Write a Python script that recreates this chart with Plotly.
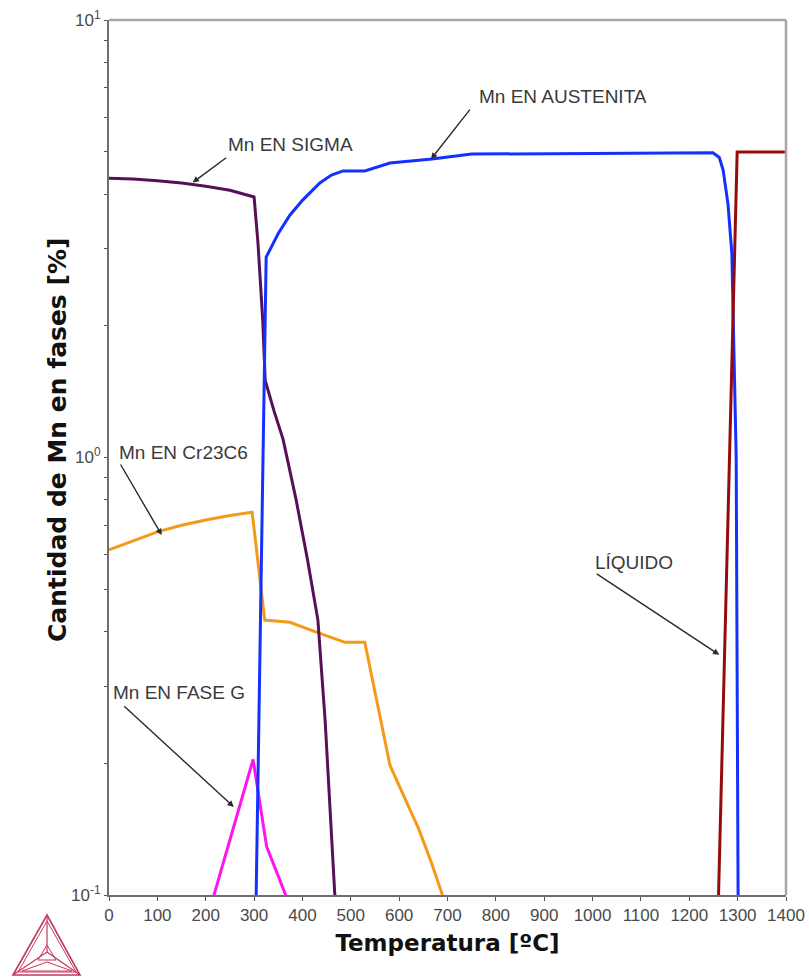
import math
import plotly.graph_objects as go

# Mn content in each phase vs temperature
T_sigma = [0, 50, 100, 150, 200, 250, 300, 308, 318, 323, 342, 360, 387, 411, 432, 440, 447, 467, 470]
mn_sigma = [4.35, 4.33, 4.29, 4.24, 4.17, 4.08, 3.94, 3.1, 2.05, 1.5, 1.27, 1.1, 0.8, 0.58, 0.425, 0.32, 0.25, 0.1, 0.093]

T_aus = [304, 325, 350, 374, 400, 436, 460, 484, 529, 581, 668, 750, 1000, 1249, 1262, 1270, 1280, 1288, 1297, 1301]
mn_aus = [0.095, 2.87, 3.25, 3.58, 3.87, 4.24, 4.42, 4.52, 4.52, 4.71, 4.81, 4.94, 4.95, 4.97, 4.85, 4.54, 3.8, 2.93, 1.0, 0.095]

T_cr = [0, 50, 100, 150, 200, 250, 296, 322, 374, 426, 488, 529, 581, 610, 640, 665, 690, 695]
mn_cr = [0.615, 0.645, 0.676, 0.70, 0.72, 0.737, 0.75, 0.425, 0.42, 0.40, 0.378, 0.378, 0.198, 0.168, 0.142, 0.12, 0.1, 0.096]

T_g = [216, 298, 326, 370]
mn_g = [0.099, 0.204, 0.129, 0.097]

T_liq = [1260, 1299, 1400]
mn_liq = [0.095, 4.99, 4.99]

x_ticks = list(range(0, 1401, 100))
y_major = [0.1, 1, 10]
y_major_text = ["10<sup>-1</sup>", "10<sup>0</sup>", "10<sup>1</sup>"]

series = [
    (T_cr, mn_cr, "#f39a1b"),
    (T_g, mn_g, "#ff14f0"),
    (T_sigma, mn_sigma, "#561058"),
    (T_aus, mn_aus, "#1430ff"),
    (T_liq, mn_liq, "#950a0a"),
]

fig = go.Figure()
for tx, vy, col in series:
    fig.add_trace(go.Scatter(x=tx, y=vy, mode="lines",
                             line=dict(color=col, width=3),
                             showlegend=False, hoverinfo="skip"))

# minor log ticks (2..9 in each decade)
y_minor = [m * 10 ** d for d in (-1, 0) for m in range(2, 10)]
tickvals = sorted(y_major + y_minor)
ticktext = [y_major_text[y_major.index(v)] if v in y_major else "" for v in tickvals]

L, R, T, B = 109, 23, 20, 82
W, H = 809, 977

def px(x):
    return (x - L) / (W - L - R)

def py(y):
    return (H - B - y) / (H - T - B)

# phase labels with leader arrows: (text, text T, text value, head T, head value, ax, ay)
labels = [
    ("Mn EN SIGMA", 376, 5.18, 173, 4.25, 35, -26),
    ("Mn EN AUSTENITA", 939, 6.67, 666, 4.81, 40, -51),
    ("Mn EN Cr23C6", 155, 1.024, 109, 0.665, -42, -72),
    ("LÍQUIDO", 1086, 0.574, 1262, 0.354, -124, -82),
    ("Mn EN FASE G", 145, 0.291, 258, 0.159, -111, -102),
]
for txt, tx, tv, hx, hv, ax, ay in labels:
    fig.add_annotation(x=hx, y=math.log10(hv), text="", showarrow=True,
                       ax=ax, ay=ay, arrowhead=2, arrowsize=0.9,
                       arrowwidth=1.4, arrowcolor="#2a2a2a", standoff=0)
    fig.add_annotation(x=tx, y=math.log10(tv), text=txt, showarrow=False,
                       xanchor="center", yanchor="middle",
                       font=dict(family="Arial, Liberation Sans", size=19, color="#3a3a3a"))

title_font = "DejaVu Sans, Verdana, Arial"

# vertical axis title
fig.add_annotation(xref="paper", yref="paper", x=px(57), y=py(440),
                   text="<b>Cantidad de Mn en fases [%]</b>", textangle=-90,
                   showarrow=False, xanchor="center", yanchor="middle",
                   font=dict(family=title_font, size=25, color="#111"))

# frame: top and right edges
fig.add_shape(type="line", xref="paper", yref="paper", x0=0, x1=1, y0=1, y1=1,
              line=dict(color="#a6a6a6", width=2.5))
fig.add_shape(type="line", xref="paper", yref="paper", x0=1, x1=1, y0=0, y1=1,
              line=dict(color="#a6a6a6", width=2.5))

# triangle logo in the lower-left corner
logo = "#c23a5c"
top, bl, br = (47, 915), (13, 975), (80, 975)
cx, cy = 47, 952

def path(pts, close=True):
    s = "M " + " L ".join(f"{px(a):.5f},{py(b):.5f}" for a, b in pts)
    return s + (" Z" if close else "")

fig.add_shape(type="path", xref="paper", yref="paper", path=path([top, bl, br]),
              line=dict(color=logo, width=1.6))
fig.add_shape(type="path", xref="paper", yref="paper",
              path=path([(47, 921), (18, 972), (76, 972)]),
              line=dict(color=logo, width=1))
for v in (top, bl, br):
    fig.add_shape(type="path", xref="paper", yref="paper", path=path([v, (cx, cy)], close=False),
                  line=dict(color=logo, width=1.2))
fig.add_shape(type="path", xref="paper", yref="paper",
              path=path([(38, 960), (56, 960), (47, 945)]),
              line=dict(color=logo, width=1))
fig.add_shape(type="path", xref="paper", yref="paper",
              path=path([(22, 971), (72, 971), (47, 962)]),
              line=dict(color=logo, width=1))

fig.update_layout(
    width=W, height=H,
    margin=dict(l=L, r=R, t=T, b=B),
    paper_bgcolor="white", plot_bgcolor="white",
    font=dict(family="Arial, Liberation Sans"),
    xaxis=dict(range=[0, 1400], tickvals=x_ticks, ticks="outside", ticklen=4,
               tickcolor="#555", showgrid=False, zeroline=False, automargin=False,
               showline=True, linecolor="#6e6e6e", linewidth=2,
               tickfont=dict(size=17, color="#4a4a4a"),
               title=dict(text="<b>Temperatura [ºC]</b>", standoff=10,
                          font=dict(family=title_font, size=23, color="#111"))),
    yaxis=dict(type="log", range=[-1, 1], tickvals=tickvals, ticktext=ticktext,
               ticks="outside", ticklen=3, tickcolor="#555",
               showgrid=False, zeroline=False, automargin=False,
               showline=True, linecolor="#6e6e6e", linewidth=2,
               tickfont=dict(size=17, color="#4a4a4a")),
)

fig.write_html("out.html")
